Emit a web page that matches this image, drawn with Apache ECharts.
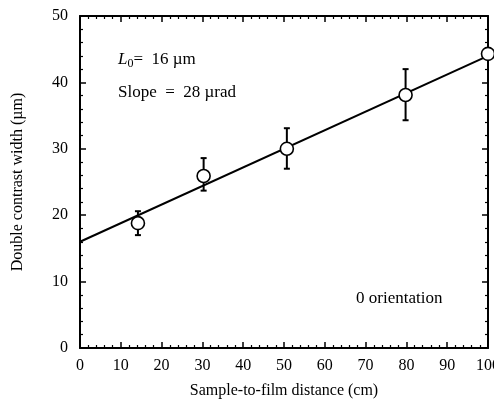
<!DOCTYPE html>
<html>
<head>
<meta charset="UTF-8">
<script src="https://cdn.jsdelivr.net/npm/echarts@6/dist/echarts.min.js"></script>
<style>
  html, body { margin: 0; padding: 0; background: #fff; }
  #chart { width: 494px; height: 408px; }
</style>
</head>
<body>
<div id="chart"></div>
<script>
// measured points
const distance = [14.2, 30.3, 50.7, 79.8, 100];
const width = [18.8, 25.9, 30.0, 38.1, 44.3];
const errLow = [17.0, 23.7, 27.0, 34.3, null];
const errHigh = [20.6, 28.6, 33.1, 42.0, null];
// fitted line
const fitX = [0, 100];
const fitY = [16, 44];

const font = 'Liberation Serif';
const chart = echarts.init(document.getElementById('chart'));

const axisCommon = {
    type: 'value',
    min: 0,
    interval: 10,
    axisLine: { show: true, onZero: false, lineStyle: { color: '#000', width: 2 } },
    axisTick: { show: true, inside: true, length: 6, lineStyle: { color: '#000', width: 1.5 } },
    minorTick: { show: true, splitNumber: 5, length: 3, lineStyle: { color: '#000', width: 1.2 } },
    splitLine: { show: false },
    axisLabel: { color: '#000', fontFamily: font, fontSize: 16 }
};

const option = {
    animation: false,
    grid: { left: 80, right: 6, top: 16, bottom: 60, outerBoundsMode: 'none', containLabel: false },
    xAxis: [
        Object.assign({}, axisCommon, {
            max: 100,
            name: 'Sample-to-film distance (cm)',
            nameLocation: 'middle',
            nameGap: 35,
            nameTextStyle: { color: '#000', fontFamily: font, fontSize: 16 },
            axisLabel: { color: '#000', fontFamily: font, fontSize: 16, margin: 10 }
        }),
        Object.assign({}, axisCommon, {
            max: 100, position: 'top', axisLabel: { show: false }
        })
    ],
    yAxis: [
        Object.assign({}, axisCommon, {
            max: 50,
            name: 'Double contrast width (µm)',
            nameLocation: 'middle',
            nameGap: 54,
            nameTextStyle: { color: '#000', fontFamily: font, fontSize: 16 },
            axisLabel: { color: '#000', fontFamily: font, fontSize: 16, margin: 12 }
        }),
        Object.assign({}, axisCommon, {
            max: 50, position: 'right', axisLabel: { show: false }
        })
    ],
    series: [
        {
            type: 'line',
            data: fitX.map((x, i) => [x, fitY[i]]),
            symbol: 'none',
            lineStyle: { color: '#000', width: 2 },
            z: 2
        },
        {
            type: 'custom',
            data: distance.map((x, i) => [x, errLow[i], errHigh[i]]).filter(d => d[1] != null),
            renderItem: function (params, api) {
                const lo = api.coord([api.value(0), api.value(1)]);
                const hi = api.coord([api.value(0), api.value(2)]);
                const cap = 3;
                const st = { stroke: '#000', lineWidth: 2 };
                return {
                    type: 'group',
                    children: [
                        { type: 'line', shape: { x1: lo[0], y1: lo[1], x2: hi[0], y2: hi[1] }, style: st },
                        { type: 'line', shape: { x1: lo[0] - cap, y1: lo[1], x2: lo[0] + cap, y2: lo[1] }, style: st },
                        { type: 'line', shape: { x1: hi[0] - cap, y1: hi[1], x2: hi[0] + cap, y2: hi[1] }, style: st }
                    ]
                };
            },
            z: 3
        },
        {
            type: 'scatter',
            data: distance.map((x, i) => [x, width[i]]),
            symbol: 'circle',
            symbolSize: 13,
            itemStyle: { color: '#fff', opacity: 1, borderColor: '#000', borderWidth: 1.6 },
            z: 4
        }
    ],
    graphic: [
        {
            type: 'text', left: 118, top: 51,
            style: {
                text: '{i|L}{s|0}{n|=  16 µm}',
                rich: {
                    i: { fontFamily: font, fontSize: 17, fontStyle: 'italic', fill: '#000' },
                    s: { fontFamily: font, fontSize: 12, fill: '#000', padding: [8, 0, 0, 0] },
                    n: { fontFamily: font, fontSize: 17, fill: '#000' }
                }
            }
        },
        {
            type: 'text', left: 118, top: 84,
            style: { text: 'Slope  =  28 µrad', fontFamily: font, fontSize: 17, fill: '#000' }
        },
        {
            type: 'text', left: 356, top: 290,
            style: { text: '0 orientation', fontFamily: font, fontSize: 17, fill: '#000' }
        }
    ]
};

chart.setOption(option);
</script>
</body>
</html>
